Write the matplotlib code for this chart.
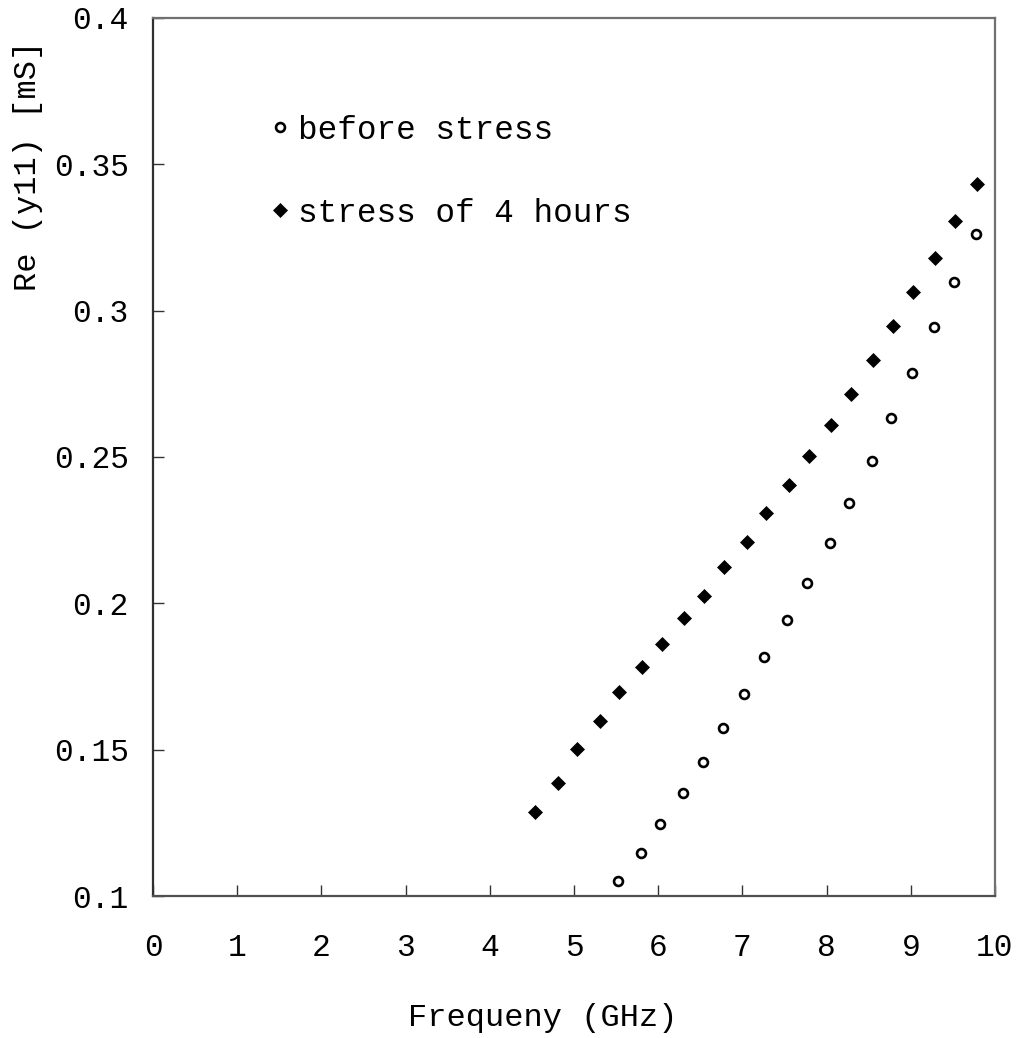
import matplotlib
matplotlib.use("Agg")
import matplotlib.pyplot as plt

# Data
freq_before = [5.52, 5.79, 6.02, 6.29, 6.53, 6.77, 7.02, 7.26, 7.53, 7.77,
               8.04, 8.27, 8.54, 8.77, 9.01, 9.27, 9.51, 9.78]
re_before = [0.1051, 0.1148, 0.1245, 0.1352, 0.1459, 0.1575, 0.1691, 0.1818,
             0.1943, 0.2069, 0.2205, 0.2342, 0.2486, 0.2632, 0.2788, 0.2943,
             0.3098, 0.3263]

freq_stress = [4.54, 4.81, 5.04, 5.31, 5.54, 5.81, 6.04, 6.31, 6.54, 6.78,
               7.05, 7.28, 7.55, 7.79, 8.05, 8.29, 8.55, 8.79, 9.03, 9.29,
               9.53, 9.79]
re_stress = [0.1288, 0.1386, 0.1502, 0.1599, 0.1696, 0.1783, 0.1860, 0.1949,
             0.2026, 0.2124, 0.2210, 0.2308, 0.2404, 0.2502, 0.2608, 0.2715,
             0.2831, 0.2948, 0.3065, 0.3181, 0.3306, 0.3433]

x_ticks = [0, 1, 2, 3, 4, 5, 6, 7, 8, 9, 10]
y_ticks = [0.1, 0.15, 0.2, 0.25, 0.3, 0.35, 0.4]
y_tick_labels = ["0.1", "0.15", "0.2", "0.25", "0.3", "0.35", "0.4"]

FONT = "Liberation Mono"
plt.rcParams['font.family'] = [FONT, 'DejaVu Sans']

W, H = 1016, 1038
fig = plt.figure(figsize=(W / 100, H / 100), dpi=100)
ax = fig.add_axes([153 / W, 1 - 896 / H, (995 - 153) / W, (896 - 18) / H])

ax.plot(freq_before, re_before, linestyle='none', marker='o', ms=6.4,
        mfc='white', mec='black', mew=1.9, label='before stress')
ax.plot(freq_stress, re_stress, linestyle='none', marker='D', ms=7.2,
        mfc='black', mec='black', mew=0.5, label='stress of 4 hours')

ax.set_xlim(0, 10)
ax.set_ylim(0.1, 0.4)
ax.set_xticks(x_ticks)
ax.set_xticklabels([str(t) for t in x_ticks])
ax.set_yticks(y_ticks)
ax.set_yticklabels(y_tick_labels)

for s in ax.spines.values():
    s.set_color('#707070')
    s.set_linewidth(1.6)
ax.spines['left'].set_color('#303030')
ax.spines['bottom'].set_color('#505050')

ax.tick_params(axis='both', direction='in', length=8, width=1.0,
               color='#333333', labelsize=22.5)
ax.tick_params(axis='y', pad=17.5)
ax.tick_params(axis='x', pad=27)
for lab in ax.get_xticklabels() + ax.get_yticklabels():
    lab.set_fontfamily(FONT)

leg = ax.legend(loc='upper left', bbox_to_anchor=(0.139, 0.89), frameon=False,
                handlelength=0.6, handletextpad=0.25, labelspacing=1.6,
                borderaxespad=0, borderpad=0,
                prop={'family': FONT, 'size': 23.5})

fig.text(28 / W, 1 - 166 / H, "Re (y11) [mS]", rotation=90, ha='center',
         va='center', fontsize=23, family=FONT)
fig.text(543 / W, 1 - 1018 / H, "Frequeny (GHz)", ha='center', va='center',
         fontsize=23, family=FONT)

fig.savefig("out.png", dpi=100)
